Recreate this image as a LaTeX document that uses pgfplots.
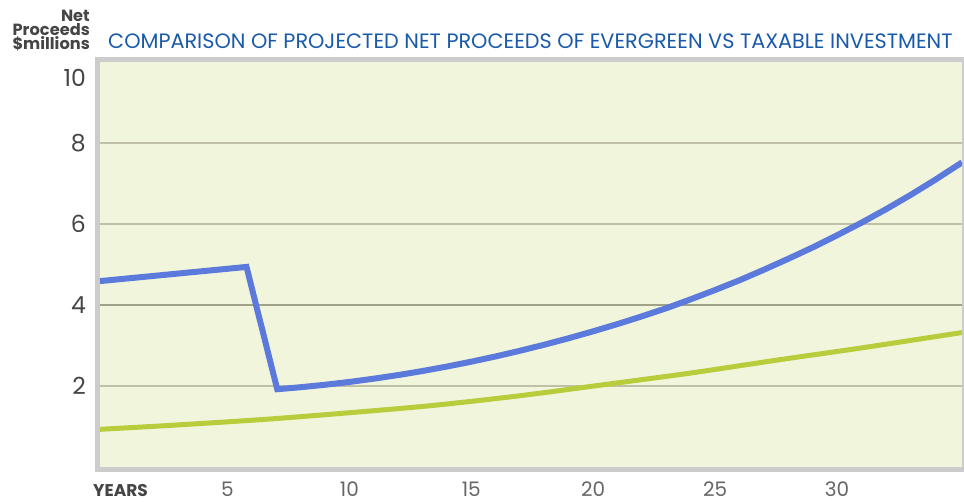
\documentclass[border=0pt]{standalone}
\usepackage{fontspec}
\setmainfont{Poppins}
\usepackage{pgfplots}
\pgfplotsset{compat=1.18}
\definecolor{bg}{HTML}{F1F5DB}
\definecolor{framegray}{HTML}{CCCCCC}
\definecolor{gridlight}{HTML}{BFC0A6}
\definecolor{griddark}{HTML}{A0A288}
\definecolor{blueline}{HTML}{5B7ADB}
\definecolor{greenline}{HTML}{B9CD3C}
\definecolor{titleblue}{HTML}{1A5AAA}
\definecolor{labgray}{HTML}{454545}
\definecolor{xgray}{HTML}{666666}
\begin{document}
\begin{tikzpicture}
\useasboundingbox (-100pt,-35pt) rectangle (864pt,467pt);
\fill[framegray] (-5pt,-5pt) rectangle (864pt,410pt);
\begin{axis}[
  at={(0pt,0pt)}, anchor=south west,
  scale only axis, width=862pt, height=405pt,
  xmin=-0.23, xmax=35.13, ymin=0, ymax=10,
  axis background/.style={fill=bg},
  axis line style={draw=none},
  tick style={draw=none},
  xtick={5,10,15,20,25,30},
  ytick={2,6,8},
  extra y ticks={4},
  extra y tick style={grid style={color=griddark, line width=1.3pt}},
  ymajorgrids,
  grid style={color=gridlight, line width=1.3pt},
  /pgf/number format/assume math mode=true,
  xticklabel style={anchor=base, yshift=-29.5pt, inner sep=0pt, font=\fontsize{20}{20}\selectfont, text=xgray},
  yticklabel style={anchor=east, xshift=-14pt, inner sep=0pt, font=\fontsize{23.5}{23.5}\selectfont, text=labgray},
]
\addplot[blueline, line width=6pt, line join=miter] coordinates {
(-0.23,4.59) (5.78,4.94) (7.04,1.92) (8,1.97) (9,2.03) (10,2.10) (11,2.18) (12,2.27)
(13,2.37) (14,2.48) (15,2.60) (16,2.73) (17,2.87) (18,3.02) (19,3.18) (20,3.35)
(21,3.53) (22,3.72) (23,3.92) (24,4.14) (25,4.37) (26,4.61) (27,4.87) (28,5.14)
(29,5.42) (30,5.72) (31,6.03) (32,6.36) (33,6.71) (34,7.08) (35,7.47) (35.13,7.52)
};
\addplot[greenline, line width=5pt, smooth] coordinates {
(-0.23,0.93) (3,1.04) (6.62,1.18) (10,1.34) (13.43,1.52) (17,1.76) (20.28,2.02)
(24,2.32) (27.66,2.65) (31,2.94) (35.13,3.32)
};
\end{axis}
\node[anchor=east, inner sep=0pt, font=\fontsize{23.5}{23.5}\selectfont, text=labgray] at (-14pt,389pt) {10};
\node[anchor=south east, inner sep=0pt, align=right, font=\bfseries\fontsize{16.2}{14}\selectfont, text=labgray] at (-10pt,416pt) {Net\\Proceeds\\\$millions};
\node[anchor=base west, inner sep=0pt, font=\fontsize{20.8}{20.8}\selectfont, text=titleblue] at (8pt,418.7pt) {COMPARISON OF PROJECTED NET PROCEEDS OF EVERGREEN VS TAXABLE INVESTMENT};
\node[anchor=base west, inner sep=0pt, font=\bfseries\fontsize{17}{17}\selectfont, text=labgray] at (-7pt,-29.5pt) {YEARS};
\end{tikzpicture}
\end{document}
